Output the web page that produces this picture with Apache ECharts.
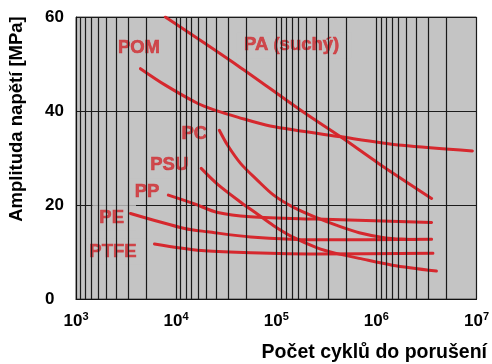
<!DOCTYPE html>
<html><head><meta charset="utf-8">
<script src="https://cdn.jsdelivr.net/npm/echarts@6/dist/echarts.min.js"></script>
<style>html,body{margin:0;padding:0;background:#fff}#c{width:492px;height:364px}</style>
</head><body><div id="c"></div>
<script>
// ---- data ----
const xTickExponents = [3, 4, 5, 6, 7];
const yTicks = [0, 20, 40, 60];
const xAxisTitle = 'Počet cyklů do porušení';
const yAxisTitle = 'Amplituda napětí [MPa]';

const paX   = [7800, 41000, 180000, 440000, 1060000, 3560000];
const paY   = [60, 49.7, 40, 34.5, 28.8, 21.4];
const pomX  = [4400, 7800, 16500, 24300, 41000, 87000, 445000, 1800000, 9100000];
const pomY  = [49.0, 45.5, 41.6, 40.2, 38.7, 36.8, 34.5, 32.7, 31.5];
const pcX   = [27000, 32700, 44200, 64600, 94200, 148600, 253000, 397000, 673000, 1236000, 1950000, 2440000];
const pcY   = [35.9, 32.7, 28.8, 25.3, 22.1, 19.5, 17.3, 15.7, 14.1, 13.0, 12.7, 12.65];
const psuX  = [17800, 26000, 44200, 64600, 94200, 148600, 253000, 397000, 673000, 1440000, 3980000];
const psuY  = [27.8, 24.4, 20.6, 18.1, 15.6, 13.1, 10.95, 9.7, 8.65, 7.2, 5.95];
const ppX   = [8360, 15000, 26000, 55000, 250000, 3560000];
const ppY   = [22.1, 20.3, 18.4, 17.5, 17.0, 16.3];
const peX   = [3500, 12200, 20700, 55500, 250000, 3560000];
const peY   = [18.2, 15.0, 14.3, 13.2, 12.6, 12.7];
const ptfeX = [6080, 17800, 55500, 250000, 3670000];
const ptfeY = [11.7, 10.3, 9.85, 9.6, 9.75];

const labelNames = ['POM', 'PA (suchý)', 'PC', 'PSU', 'PP', 'PE', 'PTFE'];
const labelX     = [2620, 47600, 11300, 5520, 3860, 1710, 1360];
const labelY     = [53.4, 54.0, 35.2, 28.6, 22.8, 17.3, 10.05];

// ---- styling ----
const FONT = '"Liberation Sans", Arial, sans-serif';
const RED = '#d6282e';
const LABEL_RED = '#d12a30';
const BG = '#c4c4c4';

function pairs(xs, ys) { return xs.map((x, i) => [x, ys[i]]); }

// vertical grid lines as drawn in the reference (10^(d+1)/k per decade)
const vLines = [];
for (let d = 3; d <= 6; d++) {
  for (let k = 1; k <= 9; k++) {
    vLines.push(Math.pow(10, d + 1) / k);
  }
}

const curves = [
  ['PA (suchý)', paX, paY], ['POM', pomX, pomY], ['PC', pcX, pcY],
  ['PSU', psuX, psuY], ['PP', ppX, ppY], ['PE', peX, peY], ['PTFE', ptfeX, ptfeY]
];

const series = [{
  type: 'line', name: 'grid', data: [], z: 1, silent: true,
  markLine: {
    silent: true, symbol: ['none', 'none'], label: { show: false },
    lineStyle: { color: '#1a1a1a', width: 1.2, type: 'solid' },
    emphasis: { disabled: true },
    data: vLines.map(v => ({ xAxis: v }))
  }
}];
curves.forEach(c => series.push({
  type: 'line', name: c[0], data: pairs(c[1], c[2]), smooth: 0.3,
  showSymbol: false, symbol: 'none', z: 4,
  lineStyle: { color: RED, width: 3, cap: 'round' }
}));
series.push({
  type: 'scatter', name: 'labels', z: 3, symbolSize: 0,
  data: labelNames.map((n, i) => [labelX[i], labelY[i], n]),
  label: {
    show: true, position: 'right', distance: 0, offset: [-7, 0],
    formatter: p => p.data[2],
    color: LABEL_RED, fontFamily: FONT, fontWeight: 'bold', fontSize: 18.5,
    textBorderColor: LABEL_RED, textBorderWidth: 0.6,
    backgroundColor: BG, padding: [4, 12, 3, 7]
  }
});

const chart = echarts.init(document.getElementById('c'), null, { renderer: 'canvas' });
chart.setOption({
  animation: false,
  backgroundColor: '#ffffff',
  grid: { left: 76, top: 17, width: 406, height: 282, show: true, backgroundColor: BG, borderColor: '#555', borderWidth: 1 },
  xAxis: {
    type: 'log', logBase: 10,
    min: Math.pow(10, xTickExponents[0]), max: Math.pow(10, xTickExponents[xTickExponents.length - 1]),
    axisLine: { show: true, lineStyle: { color: '#111', width: 1.2 } },
    axisTick: { show: false }, splitLine: { show: false }, minorTick: { show: false },
    axisLabel: {
      margin: 12,
      formatter: v => {
        const e = Math.round(Math.log10(v));
        return xTickExponents.indexOf(e) >= 0 ? '{b|10}{s|' + e + '}' : '';
      },
      rich: {
        b: { fontFamily: FONT, fontWeight: 'bold', fontSize: 17, color: '#000', lineHeight: 20 },
        s: { fontFamily: FONT, fontWeight: 'bold', fontSize: 11, color: '#000', lineHeight: 20, verticalAlign: 'top' }
      }
    }
  },
  yAxis: {
    type: 'value', min: yTicks[0], max: yTicks[yTicks.length - 1], interval: 20,
    axisLine: { show: true, lineStyle: { color: '#111', width: 1.2 } },
    axisTick: { show: false },
    splitLine: { show: true, lineStyle: { color: '#1c1c1c', width: 1 } },
    axisLabel: { align: 'left', margin: 31, fontFamily: FONT, fontWeight: 'bold', fontSize: 17, color: '#000' }
  },
  graphic: [
    { type: 'text', x: 17, y: 119, rotation: Math.PI / 2,
      style: { text: yAxisTitle, fill: '#000', font: 'bold 18.5px ' + FONT, align: 'center', verticalAlign: 'middle' } },
    { type: 'text', x: 487, y: 353,
      style: { text: xAxisTitle, fill: '#000', font: 'bold 19.5px ' + FONT, align: 'right', verticalAlign: 'middle' } }
  ],
  series: series
});
</script></body></html>
